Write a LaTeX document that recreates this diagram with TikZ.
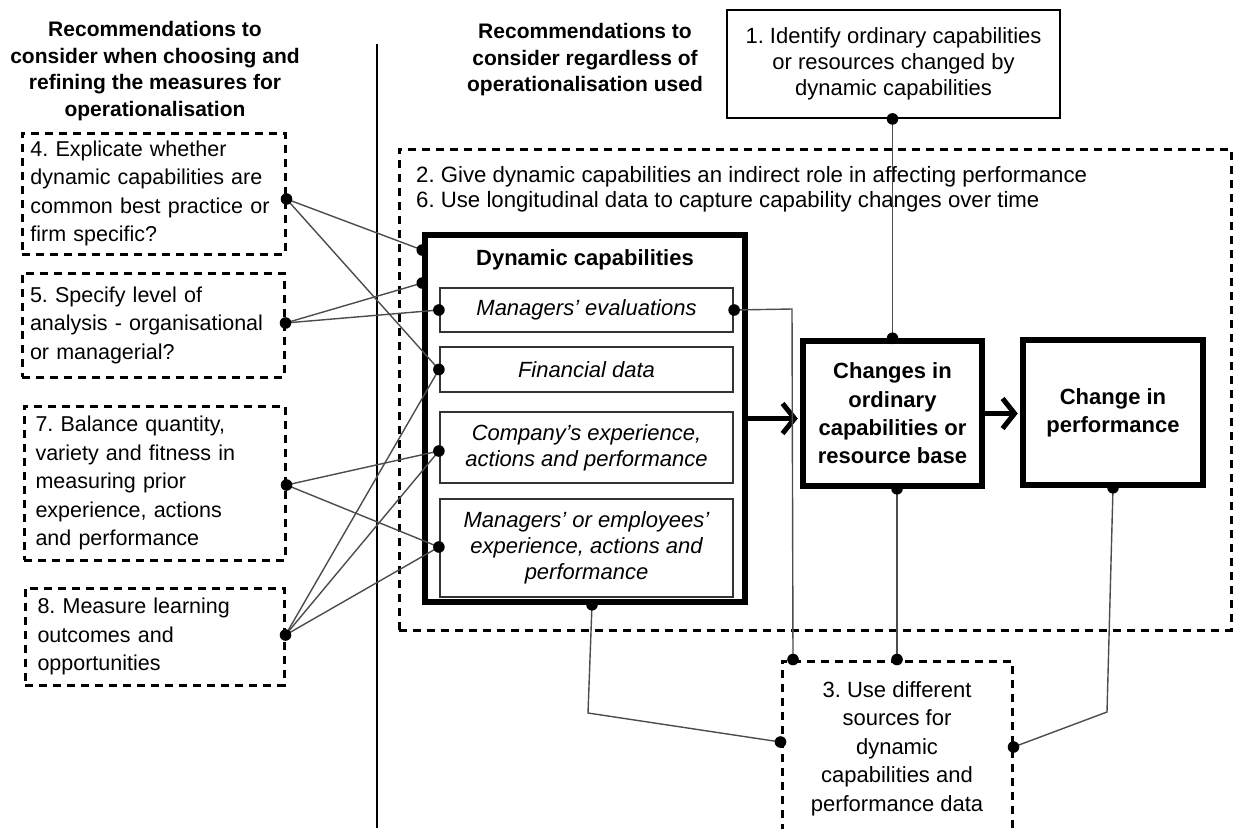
\documentclass[tikz,border=0pt]{standalone}
\usepackage{fontspec}
\setmainfont{Liberation Sans}
\usetikzlibrary{arrows.meta}
\frenchspacing
\begin{document}
\begin{tikzpicture}[x=1pt,y=-1pt,
  txt/.style={font={\fontsize{21.5}{28.5}\selectfont}},
  head/.style={font={\bfseries\fontsize{21}{26.5}\selectfont}, align=center, inner sep=0pt},
  dashbox/.style={draw, line width=3pt, dash pattern=on 8pt off 6pt, inner sep=0pt},
  plainbox/.style={draw, line width=1.8pt, inner sep=0pt},
  thickbox/.style={draw, line width=5.5pt, inner sep=0pt},
  subbox/.style={draw=black!80, line width=2.2pt, inner sep=0pt, minimum width=293pt,
    font={\itshape\fontsize{22}{26}\selectfont}, align=center},
  link/.style={draw=black!70, line width=1.4pt},
  pin/.style={fill=black},
  flow/.style={line width=5pt, -{Straight Barb[length=12pt,width=30pt]}, shorten >=2.5pt}
]
\useasboundingbox (0,0) rectangle (1234,828);
\clip (0,0) rectangle (1234,828);

% column headings and separator
\node[head] (hleft) at (155,71) {Recommendations to\\consider when choosing and\\refining the measures for\\operationalisation};
\node[head] (hmid) at (585,60) {Recommendations to\\consider regardless of\\operationalisation used};
\draw[line width=1.6pt] (377,44) -- (377,828);

% left-hand recommendations
\node[dashbox, txt, minimum width=263pt, minimum height=121pt, text width=246pt, align=left] (box4) at (153.5,193.5)
  {4. Explicate whether\\dynamic capabilities are\\common best practice or\\firm specific?};
\node[dashbox, txt, minimum width=262pt, minimum height=104pt, text width=246pt, align=left] (box5) at (153,325)
  {5. Specify level of\\analysis - organisational\\or managerial?};
\node[dashbox, txt, minimum width=261pt, minimum height=154pt, text width=238pt, align=left] (box7) at (154.5,483)
  {7. Balance quantity,\\variety and fitness in\\measuring prior\\experience, actions\\and performance};
\node[dashbox, txt, minimum width=259pt, minimum height=97pt, text width=234pt, align=left] (box8) at (154.5,636.5)
  {8. Measure learning\\outcomes and\\opportunities};

% recommendation 1
\node[plainbox, minimum width=333pt, minimum height=108pt, align=center,
  font={\fontsize{22}{26}\selectfont}] (box1) at (893.5,64)
  {1. Identify ordinary capabilities\\or resources changed by\\dynamic capabilities};

% frame for recommendations 2 and 6
\node[dashbox, minimum width=832pt, minimum height=481pt] (frame) at (815,389.5) {};
\node[anchor=west, align=left, inner sep=0pt, font={\fontsize{22.2}{25}\selectfont}] (rec26) at (416,189.5)
  {2. Give dynamic capabilities an indirect role in affecting performance\\6. Use longitudinal data to capture capability changes over time};

% dynamic capabilities and their measures
\node[thickbox, minimum width=320pt, minimum height=367pt] (dc) at (585,418.5) {};
\node[head, font={\bfseries\fontsize{22}{26}\selectfont}] (dctitle) at (585,260) {Dynamic capabilities};
\node[subbox, minimum height=44pt] (mev) at (586.5,310) {Managers’ evaluations};
\node[subbox, minimum height=45pt] (fin) at (586.5,369.5) {Financial data};
\node[subbox, minimum height=71pt] (comp) at (586.5,447.5) {Company’s experience,\\actions and performance};
\node[subbox, minimum height=98pt] (memp) at (586.5,548) {Managers’ or employees’\\experience, actions and\\performance};

% outcomes
\node[thickbox, minimum width=179pt, minimum height=145pt, align=center,
  font={\bfseries\fontsize{22}{28.3}\selectfont}] (chg) at (892.5,413.5)
  {Changes in\\ordinary\\capabilities or\\resource base};
\node[thickbox, minimum width=180pt, minimum height=145pt, align=center,
  font={\bfseries\fontsize{22}{28}\selectfont}] (cip) at (1113,412.5)
  {Change in\\performance};

% recommendation 3
\node[dashbox, minimum width=230pt, minimum height=175pt, align=center,
  font={\fontsize{22}{28.5}\selectfont}] (box3) at (897,748.5)
  {3. Use different\\sources for\\dynamic\\capabilities and\\performance data};

% main causal arrows
\draw[flow] (dc.east) -- (dc.east -| chg.west);
\draw[flow] (chg.east) -- (chg.east -| cip.west);

% attachment points
\coordinate (p4) at (box4.east |- 0,199);
\coordinate (p5) at (box5.east |- 0,323);
\coordinate (p7) at (box7.east |- 0,485);
\coordinate (p8) at (box8.east |- 0,635);
\coordinate (dcA) at (dc.west |- 0,250);
\coordinate (dcB) at (dc.west |- 0,283);
\coordinate (mevL) at (mev.west);
\coordinate (finL) at (fin.west);
\coordinate (compL) at (comp.west |- 0,451);
\coordinate (memL) at (memp.west |- 0,547);
\coordinate (mevR) at (mev.east);
\coordinate (dcS) at (dc.south -| 592,0);
\coordinate (chgT) at (chg.north);
\coordinate (chgB) at (chg.south -| box3.north);
\coordinate (cipB) at (cip.south);
\coordinate (b1B) at (box1.south -| chg.north);
\coordinate (b3T) at (box3.north);
\coordinate (b3TL) at (box3.north west -| 793,0);
\coordinate (b3L) at (box3.west |- 0,742);
\coordinate (b3R) at (box3.east |- 0,747);
\coordinate (bendA) at (792,309);
\coordinate (bendB) at (588,713);
\coordinate (bendC) at (1107,712);

% links from measurement recommendations
\draw[link] (p4) -- (dcA);
\draw[link] (p4) -- (finL);
\draw[link] (p5) -- (dcB);
\draw[link] (p5) -- (mevL);
\draw[link] (p7) -- (compL);
\draw[link] (p7) -- (memL);
\draw[link] (p8) -- (finL);
\draw[link] (p8) -- (compL);
\draw[link] (p8) -- (memL);

% links of recommendations 1 and 3
\draw[link] (b1B) -- (chgT);
\draw[link] (chgB) -- (b3T);
\draw[link] (mevR) -- (bendA) -- (b3TL);
\draw[link] (dcS) -- (bendB) -- (b3L);
\draw[link] (cipB) -- (bendC) -- (b3R);

% connection dots
\foreach \q in {p4,p5,p7,p8,dcA,dcB,mevL,finL,compL,memL,mevR,dcS,chgT,chgB,cipB,b1B,b3T,b3TL,b3L,b3R}
  \fill[pin] (\q) circle[radius=5.8pt];
\end{tikzpicture}
\end{document}
